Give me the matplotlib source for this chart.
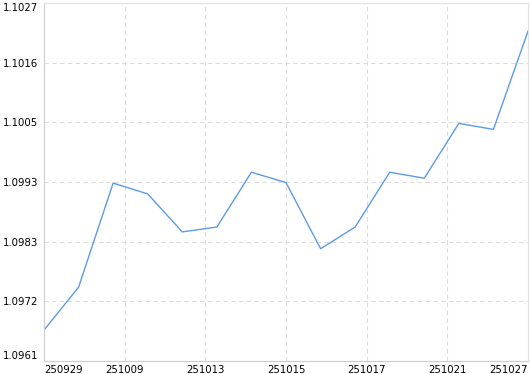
import numpy as np
import matplotlib.pyplot as plt

# closing values, one per trading day
values = [1.09667, 1.09746, 1.09938, 1.09918, 1.09848, 1.09857, 1.09958, 1.09939,
          1.09817, 1.09857, 1.09958, 1.09947, 1.10048, 1.10037, 1.10218]
x_labels = ['250929', '251009', '251013', '251015', '251017', '251021', '251027']
y_labels = ['1.0961', '1.0972', '1.0983', '1.0993', '1.1005', '1.1016', '1.1027']
y_min, y_max = 1.0961, 1.1027

fig = plt.figure(figsize=(5.3, 3.74), dpi=100)
ax = fig.add_axes([44 / 530, 13 / 374, 484 / 530, 358 / 374])

x = np.arange(len(values))
ax.plot(x, values, color='#5b9bea', lw=1.0)

ax.set_xlim(0, len(values) - 1)
ax.set_ylim(y_min, y_max)

xt = np.linspace(0, len(values) - 1, len(x_labels))
ax.set_xticks(xt)
ax.set_xticklabels(x_labels)
yt = np.linspace(y_min, y_max, len(y_labels))
ax.set_yticks(yt)
ax.set_yticklabels(y_labels)

ax.tick_params(length=0, labelsize=7.3, colors='black', pad=4)
ax.tick_params(axis='x', pad=3)
xl = ax.get_xticklabels()
xl[0].set_ha('left')
xl[-1].set_ha('right')
yl = ax.get_yticklabels()
yl[0].set_va('bottom')
yl[-1].set_va('top')

ax.grid(True, ls=(0, (4, 3)), color='#dcdcdc', lw=0.8)
for side in ['left', 'bottom']:
    ax.spines[side].set_color('#cccccc')
for side in ['top', 'right']:
    ax.spines[side].set_color('#e2e2e2')

fig.savefig('out.png', dpi=100)
